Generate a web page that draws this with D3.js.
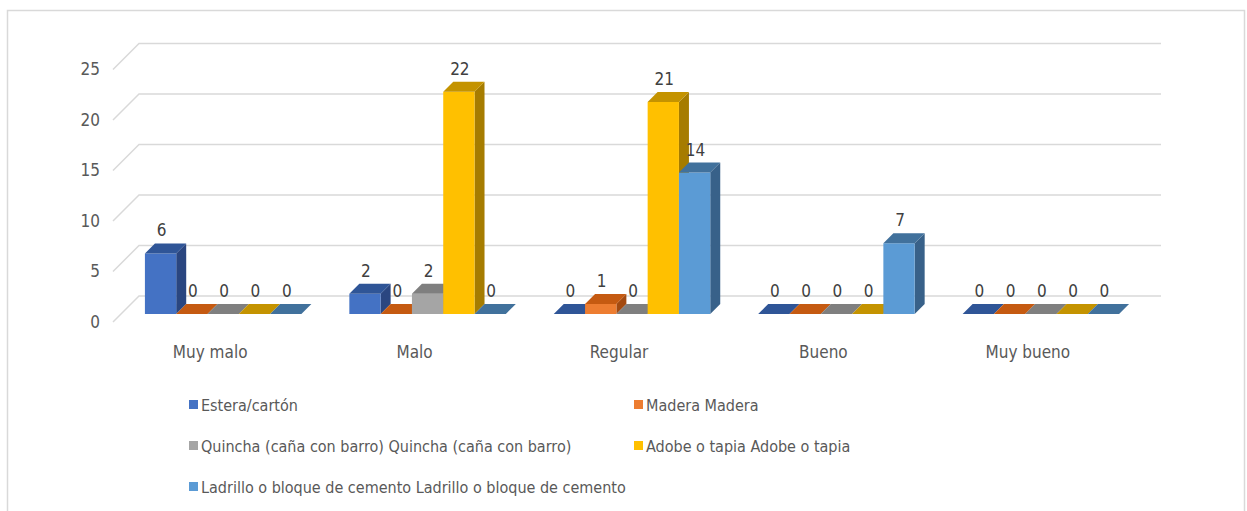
<!doctype html>
<html lang="es">
<head>
    <meta charset="utf-8"/>
    <title>Estado de vivienda por material</title>
    <style>
        body { margin: 0; background: #fff; }
        svg { display: block; font-family: "Liberation Sans Narrow", "DejaVu Sans Condensed", sans-serif; }
    </style>
</head>
<body>
    <svg id="chart" width="1247" height="511"></svg>
    <script src="https://d3js.org/d3.v7.min.js"></script>
    <script>
        // data
        const categories = ["Muy malo", "Malo", "Regular", "Bueno", "Muy bueno"];
        const series = ["Estera/cartón", "Madera Madera", "Quincha (caña con barro) Quincha (caña con barro)",
                        "Adobe o tapia Adobe o tapia", "Ladrillo o bloque de cemento Ladrillo o bloque de cemento"];
        const estera   = [6, 2, 0, 0, 0];
        const madera   = [0, 0, 1, 0, 0];
        const quincha  = [0, 2, 0, 0, 0];
        const adobe    = [0, 22, 21, 0, 0];
        const ladrillo = [0, 0, 14, 7, 0];
        const yTicks = [0, 5, 10, 15, 20, 25];

        const values = [estera, madera, quincha, adobe, ladrillo];
        // front / top / side colours for each series
        const frontCol = ["#4472C4", "#ED7D31", "#A5A5A5", "#FFC000", "#5B9BD5"];
        const topCol   = ["#2F5597", "#C55A11", "#7F7F7F", "#C49300", "#41719C"];
        const sideCol  = ["#2A4680", "#A34A10", "#6B6B6B", "#A67C00", "#386189"];

        const svg = d3.select("#chart");

        // outer frame
        svg.append("rect")
            .attr("x", 7.5).attr("y", 10.5)
            .attr("width", 1237).attr("height", 530)
            .attr("fill", "none").attr("stroke", "#d9d9d9").attr("stroke-width", 1.5);

        const wallDepth = 26;   // projected depth of the back wall
        const barZ = 8;         // bars sit this far behind the front plane
        const barD = 10;        // bar thickness

        const y = d3.scaleLinear().domain([0, 25]).range([322, 69.5]);
        const x0 = d3.scaleBand().domain(categories).range([113, 1135]).paddingInner(0.2345).paddingOuter(0.117);
        const x1 = d3.scaleBand().domain(d3.range(series.length)).range([0, x0.bandwidth()]);

        const grid = svg.append("g").attr("stroke", "#d9d9d9").attr("stroke-width", 1.5).attr("fill", "none");
        yTicks.forEach(t => {
            const yf = y(t), yb = y(t) - wallDepth;
            grid.append("path")
                .attr("d", `M113,${yf}L${113 + wallDepth},${yb}L${1135 + wallDepth},${yb}`);
        });

        svg.append("g")
            .attr("font-size", 17).attr("fill", "#595959").attr("text-anchor", "end")
            .selectAll("text").data(yTicks).join("text")
            .attr("x", 100).attr("y", d => y(d)).attr("dy", "0.35em")
            .text(d => d);

        // bars, drawn left to right so the next front face hides the previous side
        const bars = [];
        categories.forEach((c, ci) => {
            series.forEach((s, si) => bars.push({ci, si, v: values[si][ci]}));
        });

        const gBars = svg.append("g").attr("stroke-linejoin", "round");
        bars.forEach(b => {
            const xl = x0(categories[b.ci]) + x1(b.si) + barZ;
            const xr = xl + x1.bandwidth();
            const yb = y(0) - barZ;
            const yt = y(b.v) - barZ;
            const g = gBars.append("g");
            if (b.v > 0) {
                g.append("path").attr("fill", sideCol[b.si])
                    .attr("d", `M${xr},${yb}L${xr + barD},${yb - barD}L${xr + barD},${yt - barD}L${xr},${yt}Z`);
                g.append("path").attr("fill", frontCol[b.si])
                    .attr("d", `M${xl},${yb}L${xr},${yb}L${xr},${yt}L${xl},${yt}Z`);
            }
            g.append("path").attr("fill", topCol[b.si])
                .attr("d", `M${xl},${yt}L${xr},${yt}L${xr + barD},${yt - barD}L${xl + barD},${yt - barD}Z`);
            g.append("text")
                .attr("x", (xl + xr) / 2 + 1).attr("y", yt - 17)
                .attr("text-anchor", "middle").attr("font-size", 17).attr("fill", "#404040")
                .text(b.v);
        });

        // category labels
        svg.append("g")
            .attr("font-size", 17).attr("fill", "#595959").attr("text-anchor", "middle")
            .selectAll("text").data(categories).join("text")
            .attr("x", d => x0(d) + x0.bandwidth() / 2 - 5).attr("y", 358)
            .text(d => d);

        // legend, two columns
        const legendX = [189, 634], legendY = [405, 446, 487];
        const leg = svg.append("g").attr("font-size", 16).attr("fill", "#595959");
        series.forEach((s, i) => {
            const lx = legendX[i % 2], ly = legendY[Math.floor(i / 2)];
            leg.append("rect").attr("x", lx).attr("y", ly - 5).attr("width", 9).attr("height", 9).attr("fill", frontCol[i]);
            leg.append("text").attr("x", lx + 12).attr("y", ly).attr("dy", "0.35em").text(s);
        });
    </script>
</body>
</html>
